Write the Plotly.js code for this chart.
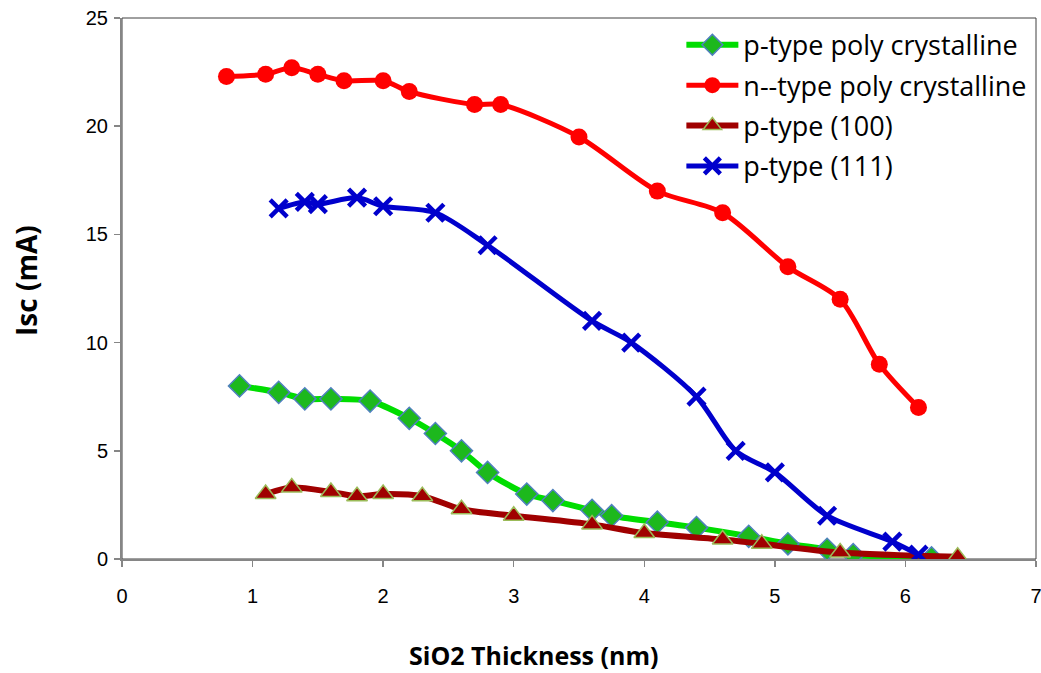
<!DOCTYPE html>
<html>
<head>
<meta charset="utf-8">
<script src="https://cdn.plot.ly/plotly-3.0.1.min.js"></script>
<style>html,body{margin:0;padding:0;background:#fff;}#chart{width:1041px;height:673px;}</style>
</head>
<body>
<div id="chart"></div>
<script>
// p-type poly crystalline
const pPolyX = [0.9, 1.2, 1.4, 1.6, 1.9, 2.2, 2.4, 2.6, 2.8, 3.1, 3.3, 3.6, 3.75, 4.1, 4.4, 4.8, 5.1, 5.4, 5.6, 6.2];
const pPolyY = [8.0, 7.7, 7.4, 7.4, 7.3, 6.5, 5.8, 5.0, 4.0, 3.0, 2.7, 2.25, 2.0, 1.7, 1.45, 1.05, 0.7, 0.45, 0.2, 0.05];
// n--type poly crystalline
const nPolyX = [0.8, 1.1, 1.3, 1.5, 1.7, 2.0, 2.2, 2.7, 2.9, 3.5, 4.1, 4.6, 5.1, 5.5, 5.8, 6.1];
const nPolyY = [22.3, 22.4, 22.7, 22.4, 22.1, 22.1, 21.6, 21.0, 21.0, 19.5, 17.0, 16.0, 13.5, 12.0, 9.0, 7.0];
// p-type (100)
const p100X = [1.1, 1.3, 1.6, 1.8, 2.0, 2.3, 2.6, 3.0, 3.6, 4.0, 4.6, 4.9, 5.5, 6.4];
const p100Y = [3.0, 3.3, 3.1, 2.9, 3.0, 2.9, 2.3, 2.0, 1.6, 1.2, 0.9, 0.7, 0.3, 0.1];
// p-type (111)
const p111X = [1.2, 1.4, 1.5, 1.8, 2.0, 2.4, 2.8, 3.6, 3.9, 4.4, 4.7, 5.0, 5.4, 5.9, 6.1];
const p111Y = [16.2, 16.5, 16.4, 16.7, 16.3, 16.0, 14.5, 11.0, 10.0, 7.5, 5.0, 4.0, 2.0, 0.8, 0.2];

const seriesNames = ['p-type poly crystalline', 'n--type poly crystalline', 'p-type (100)', 'p-type (111)'];
const xTitle = 'SiO2 Thickness (nm)';
const yTitle = 'Isc (mA)';

const traces = [
  {x: pPolyX, y: pPolyY, name: seriesNames[0], legendgroup: 'a', mode: 'lines+markers',
   line: {color: '#00DD00', width: 6, shape: 'spline', smoothing: 0.8},
   marker: {symbol: 'diamond', size: 17, color: '#1DB81D', line: {color: '#4F81BD', width: 1.5}}},
  {x: nPolyX, y: nPolyY, name: seriesNames[1], legendgroup: 'b', mode: 'lines+markers',
   line: {color: '#FF0000', width: 5, shape: 'spline', smoothing: 0.8},
   marker: {symbol: 'circle', size: 17, color: '#FF0000', line: {width: 0}}},
  {x: p100X, y: p100Y, name: seriesNames[2], legendgroup: 'c', mode: 'lines+markers',
   line: {color: '#A00000', width: 6, shape: 'spline', smoothing: 0.8},
   marker: {symbol: 'triangle-up', size: 18, color: '#A00000', line: {color: '#9BBB59', width: 1.5}}},
  {x: p111X, y: p111Y, name: seriesNames[3], legendgroup: 'd', mode: 'lines+markers',
   line: {color: '#0000CC', width: 5, shape: 'spline', smoothing: 0.8},
   marker: {symbol: 'x-thin', size: 17, color: '#0000CC', line: {color: '#0000CC', width: 4.5}}}
];

const tickFont = {size: 20, family: 'Liberation Sans, Arial, sans-serif', color: '#000'};
const titleFont = {family: 'Open Sans, sans-serif', weight: 'bold', color: '#000'};

const layout = {
  width: 1041, height: 673,
  margin: {l: 122, r: 5, t: 18, b: 114},
  paper_bgcolor: '#fff', plot_bgcolor: '#fff',
  font: {family: 'Liberation Sans, Arial, sans-serif', color: '#000'},
  xaxis: {
    range: [0, 7], dtick: 1, tick0: 0, showgrid: false, zeroline: false,
    showline: true, linecolor: '#868686', linewidth: 2,
    ticks: 'outside', ticklen: 6, tickcolor: '#868686', tickwidth: 1.5,
    tickfont: tickFont, ticklabeloverflow: 'allow', ticklabelstandoff: 12
  },
  yaxis: {
    range: [0, 25], dtick: 5, tick0: 0, showgrid: false, zeroline: false,
    showline: true, linecolor: '#868686', linewidth: 2,
    ticks: 'outside', ticklen: 6, tickcolor: '#868686', tickwidth: 1.5,
    tickfont: tickFont, ticklabelstandoff: 2
  },
  annotations: [
    {text: '<b>' + xTitle + '</b>', xref: 'paper', yref: 'paper', x: 0.45, y: -0.177,
     xanchor: 'center', yanchor: 'middle', showarrow: false, font: Object.assign({size: 25}, titleFont)},
    {text: '<b>' + yTitle + '</b>', xref: 'paper', yref: 'paper', x: -0.105, y: 0.514,
     xanchor: 'center', yanchor: 'middle', showarrow: false, textangle: -90, font: Object.assign({size: 28}, titleFont)}
  ],
  shapes: [{type: 'rect', xref: 'paper', yref: 'paper', x0: 0, x1: 1, y0: 0, y1: 1,
            line: {color: '#404040', width: 1}, layer: 'below'}],
  legend: {
    x: 0.612, y: 0.995, xanchor: 'left', yanchor: 'top',
    bgcolor: 'rgba(255,255,255,0)', borderwidth: 0,
    font: {size: 27, family: 'Open Sans, sans-serif', color: '#000'},
    itemwidth: 52, tracegroupgap: 2.3
  },
  showlegend: true
};

Plotly.newPlot('chart', traces, layout, {displayModeBar: false, staticPlot: true});
</script>
</body>
</html>
